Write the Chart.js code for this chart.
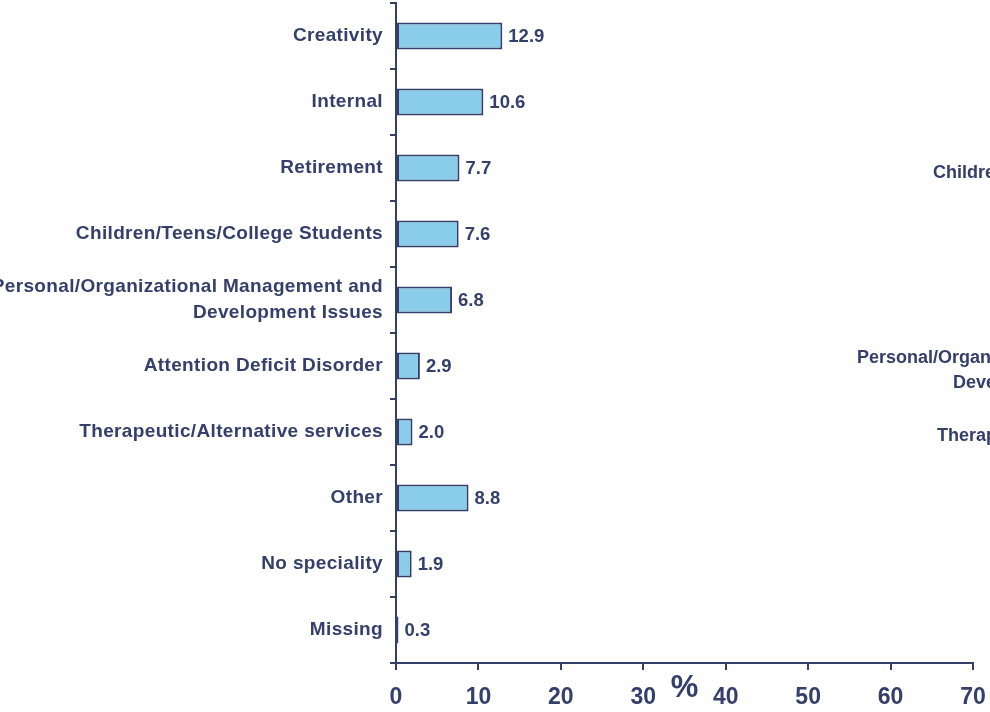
<!DOCTYPE html>
<html>
<head>
<meta charset="utf-8">
<script src="https://cdn.jsdelivr.net/npm/chart.js@4/dist/chart.umd.min.js"></script>
<style>
  html, body { margin: 0; padding: 0; background: #fff; overflow: hidden; }
  #wrap { position: relative; width: 990px; height: 712px; overflow: hidden; }
  canvas { position: absolute; left: 0; top: 0; }
  .ghost { position: absolute; white-space: nowrap; font: bold 18px "Liberation Sans", Arial, sans-serif; color: #34406b; line-height: 25px; }
</style>
</head>
<body>
<div id="wrap">
  <canvas id="chart" width="990" height="712"></canvas>
  <div class="ghost" style="left:933px; top:160px;">Children/Teens/College Students</div>
  <div class="ghost" style="left:857px; top:345px;">Personal/Organizational Management and</div>
  <div class="ghost" style="left:953px; top:370px;">Development Issues</div>
  <div class="ghost" style="left:937px; top:423px;">Therapeutic/Alternative services</div>
</div>
<script>
const categories = [
    "Creativity",
    "Internal",
    "Retirement",
    "Children/Teens/College Students",
    ["Personal/Organizational Management and", "Development Issues"],
    "Attention Deficit Disorder",
    "Therapeutic/Alternative services",
    "Other",
    "No speciality",
    "Missing"
];
const percentValues = [12.9, 10.6, 7.7, 7.6, 6.8, 2.9, 2.0, 8.8, 1.9, 0.3];
const xTickValues = [0, 10, 20, 30, 40, 50, 60, 70];

const navy = "#34406b";
const fontFamily = "'Liberation Sans', Arial, sans-serif";

// value labels to the right of each bar
const valueLabels = {
    id: "valueLabels",
    afterDatasetsDraw(chart) {
        const ctx = chart.ctx;
        const meta = chart.getDatasetMeta(0);
        ctx.save();
        ctx.fillStyle = navy;
        ctx.font = "bold 18.5px " + fontFamily;
        ctx.textAlign = "left";
        ctx.textBaseline = "middle";
        meta.data.forEach((bar, i) => {
            ctx.fillText(percentValues[i].toFixed(1), bar.x + 6, bar.y + 1);
        });
        ctx.restore();
    }
};

// a little letter spacing on the category labels, like the original
const spacedLabels = {
    id: "spacedLabels",
    beforeDraw(chart) {
        const y = chart.scales.y;
        if (y && !y._spaced) {
            const orig = y.drawLabels.bind(y);
            y.drawLabels = function (area) {
                const ctx = chart.ctx;
                ctx.letterSpacing = "0.35px";
                orig(area);
                ctx.letterSpacing = "0px";
            };
            y._spaced = true;
        }
    }
};

new Chart(document.getElementById("chart"), {
    type: "bar",
    data: {
        labels: categories,
        datasets: [{
            data: percentValues,
            backgroundColor: "#8acdea",
            borderColor: navy,
            borderWidth: 2,
            borderSkipped: false,
            categoryPercentage: 1,
            barPercentage: 0.41
        }]
    },
    options: {
        indexAxis: "y",
        responsive: false,
        animation: false,
        devicePixelRatio: 1,
        layout: { padding: { top: 3, right: 17, bottom: 0, left: 0 } },
        plugins: { legend: { display: false }, tooltip: { enabled: false } },
        scales: {
            x: {
                min: 0,
                max: 70,
                afterBuildTicks: (scale) => { scale.ticks = xTickValues.map(v => ({ value: v })); },
                afterFit: (scale) => {
                    scale.height = 49;
                    scale.paddingLeft = 0;
                    scale.paddingRight = 0;
                },
                grid: { drawOnChartArea: false, color: navy, lineWidth: 2, tickLength: 7 },
                border: { color: navy, width: 2 },
                ticks: { color: navy, padding: 14, maxRotation: 0, font: { family: fontFamily, size: 23, weight: "bold" } },
                title: {
                    display: true,
                    text: "%",
                    color: navy,
                    padding: { top: 0, bottom: 5 },
                    font: { family: fontFamily, size: 31, weight: "bold" }
                }
            },
            y: {
                afterFit: (scale) => {
                    scale.width = 396;
                    scale.paddingTop = 0;
                    scale.paddingBottom = 0;
                },
                grid: { drawOnChartArea: false, color: navy, lineWidth: 2, tickLength: 6, offset: true },
                border: { color: navy, width: 2 },
                ticks: { color: navy, padding: 7, font: { family: fontFamily, size: 19, weight: "bold", lineHeight: 1.35 } }
            }
        }
    },
    plugins: [valueLabels, spacedLabels]
});
</script>
</body>
</html>
